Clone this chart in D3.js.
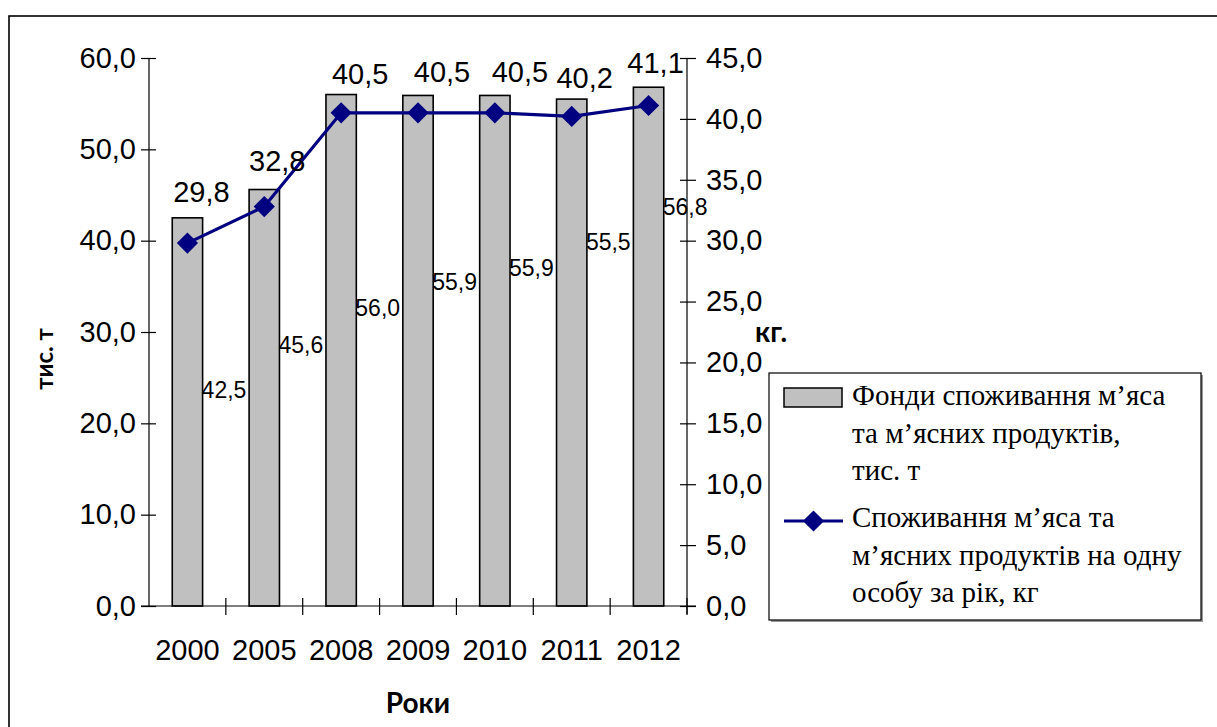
<!DOCTYPE html>
<html>
<head>
<meta charset="utf-8">
<script src="https://cdn.jsdelivr.net/npm/d3@7"></script>
<style>
  html, body { margin: 0; padding: 0; background: #fff; }
  svg { display: block; }
</style>
</head>
<body>
<svg id="chart" width="1217" height="727"></svg>
<script>
// Years on the category axis
const years = ["2000", "2005", "2008", "2009", "2010", "2011", "2012"];
// Consumption funds of meat and meat products, thousand tonnes (bars, left axis)
const fundValues = [42.5, 45.6, 56.0, 55.9, 55.9, 55.5, 56.8];
// Meat consumption per person per year, kg (line, right axis)
const perCapitaValues = [29.8, 32.8, 40.5, 40.5, 40.5, 40.2, 41.1];
// Axis tick values
const leftTicks = [0, 10, 20, 30, 40, 50, 60];
const rightTicks = [0, 5, 10, 15, 20, 25, 30, 35, 40, 45];
// Legend texts
const legendBarLines = ["Фонди споживання м’яса", "та м’ясних продуктів,", "тис. т"];
const legendLineLines = ["Споживання м’яса та", "м’ясних продуктів на одну", "особу за рік, кг"];

// Layout of the bar value labels (level on the left axis where each label sits)
const barLabelLevel = [22.8, 27.7, 31.7, 34.6, 36.1, 39.0, 42.8];
// Nudges of the line value labels, px
const lineLabelNudge = [[14, -41], [13, -36], [19, -29], [24, -31], [25, -31], [13, -28], [7, -32]];

const svg = d3.select("#chart");
const sans = "'Liberation Sans', Arial, sans-serif";
const serif = "'Liberation Serif', 'Times New Roman', serif";
const titleFont = "Lato, 'Open Sans', sans-serif";
const fmt = v => d3.format(".1f")(v).replace(".", ",");

// Outer frame
svg.append("rect")
  .attr("x", 9).attr("y", 16)
  .attr("width", 1230).attr("height", 740)
  .attr("fill", "none").attr("stroke", "#000").attr("stroke-width", 1.6);

const plot = { left: 149, right: 687, top: 58, bottom: 606 };

const x = d3.scaleBand().domain(years).range([plot.left, plot.right]).padding(0);
const yL = d3.scaleLinear().domain([0, 60]).range([plot.bottom, plot.top]);
const yR = d3.scaleLinear().domain([0, 45]).range([plot.bottom, plot.top]);
const barW = x.bandwidth() * 0.395;

// Bars
svg.append("g").selectAll("rect")
  .data(fundValues)
  .join("rect")
  .attr("x", (d, i) => x(years[i]) + x.bandwidth() / 2 - barW / 2)
  .attr("y", d => yL(d))
  .attr("width", barW)
  .attr("height", d => yL(0) - yL(d))
  .attr("fill", "#c0c0c0")
  .attr("stroke", "#000")
  .attr("stroke-width", 1.6);

// Left axis
const axL = svg.append("g")
  .attr("transform", `translate(${plot.left},0)`)
  .call(d3.axisLeft(yL).tickValues(leftTicks).tickFormat(fmt).tickSize(8).tickPadding(5));
axL.select(".domain").attr("d", `M0,${plot.top}V${plot.bottom}`).attr("stroke", "#000").attr("stroke-width", 1.2);
axL.selectAll(".tick line").attr("x1", 7).attr("x2", -8).attr("stroke", "#000").attr("stroke-width", 1.2);
axL.selectAll(".tick text").attr("font-family", sans).attr("font-size", 29).attr("fill", "#000");

// Right axis
const axR = svg.append("g")
  .attr("transform", `translate(${plot.right},0)`)
  .call(d3.axisRight(yR).tickValues(rightTicks).tickFormat(fmt).tickSize(9).tickPadding(10));
axR.select(".domain").attr("d", `M0,${plot.top}V${plot.bottom + 8}`).attr("stroke", "#000").attr("stroke-width", 1.2);
axR.selectAll(".tick line").attr("x1", -7).attr("x2", 9).attr("stroke", "#000").attr("stroke-width", 1.2);
axR.selectAll(".tick text").attr("font-family", sans).attr("font-size", 29).attr("fill", "#000");

// Category axis
const axB = svg.append("g")
  .attr("transform", `translate(0,${plot.bottom})`)
  .call(d3.axisBottom(x).tickSize(0).tickPadding(33));
axB.select(".domain").attr("d", `M${plot.left - 8},0H${plot.right + 9}`).attr("stroke", "#000").attr("stroke-width", 1.2);
axB.selectAll(".tick text").attr("font-family", sans).attr("font-size", 29).attr("fill", "#000");
// Tick marks between categories
const boundaries = years.slice(1).map(y => x(y)).concat([plot.right]);
axB.selectAll("line.sep")
  .data(boundaries)
  .join("line")
  .attr("class", "sep")
  .attr("x1", d => d).attr("x2", d => d)
  .attr("y1", -8).attr("y2", 9)
  .attr("stroke", "#000").attr("stroke-width", 1.2);

// Per-capita line with diamond markers
const cx = i => x(years[i]) + x.bandwidth() / 2;
const line = d3.line().x((d, i) => cx(i)).y(d => yR(d));
svg.append("path")
  .datum(perCapitaValues)
  .attr("d", line)
  .attr("fill", "none")
  .attr("stroke", "#000080")
  .attr("stroke-width", 3.2);

const diamond = d3.symbol().type(d3.symbolSquare).size(225);
svg.append("g").selectAll("path")
  .data(perCapitaValues)
  .join("path")
  .attr("d", diamond)
  .attr("transform", (d, i) => `translate(${cx(i)},${yR(d)}) rotate(45)`)
  .attr("fill", "#000080");

// Line value labels
svg.append("g").selectAll("text")
  .data(perCapitaValues)
  .join("text")
  .attr("x", (d, i) => cx(i) + lineLabelNudge[i][0])
  .attr("y", (d, i) => yR(d) + lineLabelNudge[i][1])
  .attr("text-anchor", "middle")
  .attr("font-family", sans)
  .attr("font-size", 29)
  .attr("fill", "#000")
  .text(d => fmt(d));

// Bar value labels
svg.append("g").selectAll("text")
  .data(fundValues)
  .join("text")
  .attr("x", (d, i) => x(years[i]) + x.bandwidth() / 2 + barW / 2 - 1)
  .attr("y", (d, i) => yL(barLabelLevel[i]))
  .attr("font-family", sans)
  .attr("font-size", 23)
  .attr("fill", "#000")
  .text(d => fmt(d));

// Axis titles
svg.append("text")
  .attr("transform", "translate(53,359) rotate(-90)")
  .attr("text-anchor", "middle")
  .attr("font-family", titleFont).attr("font-weight", "bold").attr("font-size", 24)
  .text("тис. т");
svg.append("text")
  .attr("x", 755).attr("y", 342)
  .attr("font-family", titleFont).attr("font-weight", "bold").attr("font-size", 28)
  .text("кг.");
svg.append("text")
  .attr("x", (plot.left + plot.right) / 2).attr("y", 713)
  .attr("text-anchor", "middle")
  .attr("font-family", titleFont).attr("font-weight", "bold").attr("font-size", 28)
  .text("Роки");

// Legend
const lg = svg.append("g").attr("transform", "translate(769,373)");
lg.append("rect").attr("x", 2).attr("y", 2).attr("width", 432).attr("height", 247).attr("fill", "#999");
lg.append("rect").attr("width", 432).attr("height", 247)
  .attr("fill", "#fff").attr("stroke", "#000").attr("stroke-width", 1.2);
lg.append("rect").attr("x", 15).attr("y", 15).attr("width", 58).attr("height", 19)
  .attr("fill", "#c0c0c0").attr("stroke", "#000").attr("stroke-width", 1.5);
lg.append("line").attr("x1", 15).attr("x2", 74).attr("y1", 148).attr("y2", 148)
  .attr("stroke", "#000080").attr("stroke-width", 3.2);
lg.append("path").attr("d", diamond).attr("transform", "translate(44.5,148) rotate(45)").attr("fill", "#000080");

const legendText = (lines, y0) => lg.append("g").selectAll("text")
  .data(lines)
  .join("text")
  .attr("x", 83)
  .attr("y", (d, i) => y0 + i * 37.5)
  .attr("font-family", serif)
  .attr("font-size", 29)
  .attr("fill", "#000")
  .text(d => d);
legendText(legendBarLines, 32);
legendText(legendLineLines, 154);
</script>
</body>
</html>
